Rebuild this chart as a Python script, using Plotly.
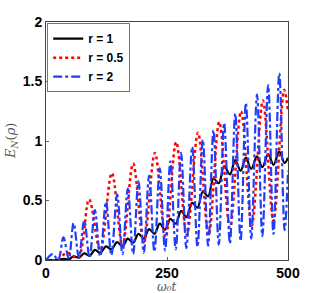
import plotly.graph_objects as go

# r = 1 (black): extrema of the slowly growing curve
t_r1 = [0, 14, 25, 36, 47, 57, 68, 79, 90, 101, 112, 124, 135, 147, 158, 169, 180, 191, 202, 213,
        224, 235, 246, 257, 268, 279, 290, 302, 313, 324, 335, 346, 357, 368, 380, 391, 402, 413,
        424, 436, 447, 459, 470, 482, 493, 500]
e_r1 = [0, 0.0, 0.0, 0.01, 0.005, 0.03, 0.02, 0.055, 0.035, 0.085, 0.06, 0.115, 0.09, 0.15, 0.115,
        0.18, 0.145, 0.22, 0.18, 0.26, 0.22, 0.305, 0.255, 0.345, 0.305, 0.41, 0.36, 0.48, 0.44,
        0.575, 0.535, 0.685, 0.645, 0.79, 0.72, 0.84, 0.75, 0.86, 0.765, 0.87, 0.78, 0.89, 0.80,
        0.91, 0.815, 0.86]

# r = 0.5 (red): peaks and troughs
t_r05 = [0, 22, 44, 66, 89, 112, 136, 158, 180, 202, 225, 247, 269, 291, 314, 336, 358, 380, 403,
         425, 448, 470, 492, 500]
e_r05 = [0, 0.0, 0.06, 0.02, 0.51, 0.08, 0.73, 0.12, 0.81, 0.15, 0.90, 0.19, 0.99, 0.21, 1.07,
         0.21, 1.16, 0.27, 1.25, 0.29, 1.34, 0.33, 1.43, 1.25]

# r = 2 (blue): peaks and troughs
t_r2 = [0, 14, 25, 36, 47, 57, 68, 79, 90, 101, 112, 124, 135, 147, 158, 169, 180, 191, 202, 213,
        224, 235, 246, 257, 268, 279, 290, 302, 313, 324, 335, 346, 357, 368, 380, 391, 402, 413,
        424, 436, 447, 459, 470, 482, 493, 500]
e_r2 = [0, 0.05, 0.0, 0.19, 0.01, 0.31, 0.02, 0.33, 0.02, 0.42, 0.03, 0.49, 0.04, 0.55, 0.05,
        0.60, 0.05, 0.66, 0.06, 0.71, 0.07, 0.77, 0.08, 0.83, 0.09, 0.90, 0.10, 0.95, 0.11, 1.01,
        0.12, 1.09, 0.13, 1.15, 0.14, 1.23, 0.16, 1.32, 0.18, 1.39, 0.20, 1.47, 0.22, 1.57, 0.25,
        0.75]

x_ticks = [0, 250, 500]
y_ticks = [0, 0.5, 1, 1.5, 2]
y_tick_labels = ["0", "0.5", "1", "1.5", "2"]

fig = go.Figure()
fig.add_trace(go.Scatter(x=t_r1, y=e_r1, mode="lines", name="r = 1",
                         line=dict(color="black", width=2.2, shape="spline", smoothing=1.0)))
fig.add_trace(go.Scatter(x=t_r05, y=e_r05, mode="lines", name="r = 0.5",
                         line=dict(color="red", width=2.5, dash="dot", shape="spline", smoothing=1.0)))
fig.add_trace(go.Scatter(x=t_r2, y=e_r2, mode="lines", name="r = 2",
                         line=dict(color="#1f3dff", width=2.2, dash="dashdot", shape="spline", smoothing=1.0)))

axis_common = dict(showline=True, linecolor="#444", linewidth=1, mirror=True, ticks="inside",
                   ticklen=3, tickcolor="#666", showgrid=False, zeroline=False, automargin=False,
                   tickfont=dict(family="Liberation Sans", size=14, color="black", weight="bold"))

fig.update_xaxes(range=[0, 500], tickvals=x_ticks, ticktext=[str(v) for v in x_ticks],
                 **axis_common)
fig.update_yaxes(range=[0, 2], tickvals=y_ticks, ticktext=y_tick_labels,
                 **axis_common)

fig.update_layout(
    width=319, height=293,
    margin=dict(l=46, r=31, t=22, b=33),
    paper_bgcolor="white", plot_bgcolor="white",
    showlegend=True,
    legend=dict(x=0.005, y=0.995, xanchor="left", yanchor="top",
                bgcolor="white", bordercolor="#777", borderwidth=1,
                font=dict(family="Liberation Sans", size=12, color="black", weight="bold"),
                tracegroupgap=0, itemwidth=30),
    annotations=[
        dict(text="<i>ω₀t</i>", xref="paper", yref="paper", x=0.5, y=-0.074,
             xanchor="center", yanchor="top", showarrow=False,
             font=dict(family="DejaVu Serif", size=12, color="#555")),
        dict(text="<i>E</i><sub><i>N</i></sub>(<i>ρ</i>)", xref="paper", yref="paper", x=-0.145, y=0.5,
             xanchor="center", yanchor="middle", showarrow=False, textangle=-90,
             font=dict(family="DejaVu Serif", size=13, color="#555")),
    ],
)

fig.write_html("out.html", config={"displayModeBar": False},
               post_script="document.body.style.margin='0';document.body.style.padding='0';")
